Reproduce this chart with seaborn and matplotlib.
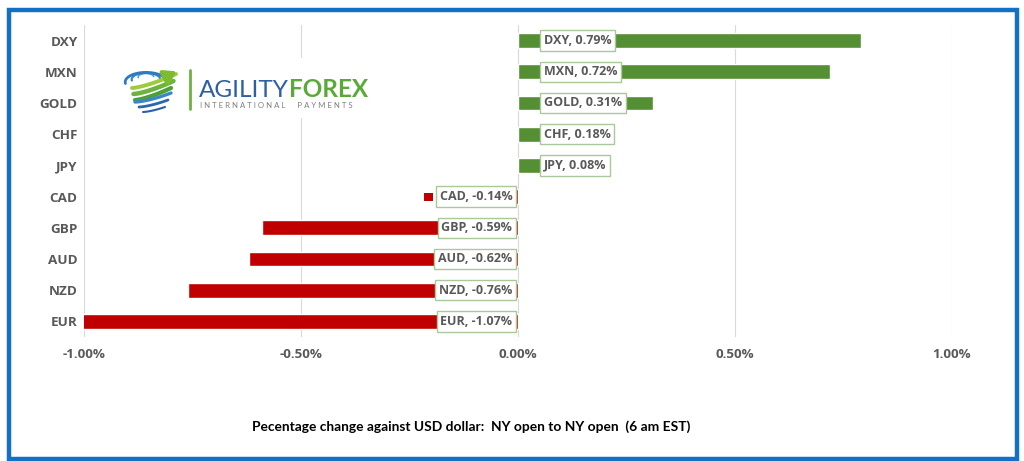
import numpy as np
import matplotlib
matplotlib.use('Agg')
import matplotlib.pyplot as plt
import seaborn as sns
from matplotlib.patches import Rectangle

# values (% change against USD)
currencies = ['DXY', 'MXN', 'GOLD', 'CHF', 'JPY', 'CAD', 'GBP', 'AUD', 'NZD', 'EUR']
changes = [0.79, 0.72, 0.31, 0.18, 0.08, -0.14, -0.59, -0.62, -0.76, -1.07]
x_ticks = [-1.0, -0.5, 0.0, 0.5, 1.0]
x_tick_labels = ['-1.00%', '-0.50%', '0.00%', '0.50%', '1.00%']
footer = 'Pecentage change against USD dollar:  NY open to NY open  (6 am EST)'
key_label = 'CAD'  # the one data label drawn with its legend key

green = '#548f33'
red = '#c00000'
grey = '#595959'
lab_font = ['Open Sans', 'DejaVu Sans']

sns.set_style('white')
plt.rcParams['font.family'] = ['Lato', 'DejaVu Sans']

W, H = 1024, 461
fig = plt.figure(figsize=(W / 100, H / 100), dpi=100)
ax = fig.add_axes([84 / W, 1 - 337 / H, 868 / W, 312 / H])

colors = [green if v >= 0 else red for v in changes]
sns.barplot(x=changes, y=currencies, hue=currencies, palette=colors, legend=False,
            orient='h', width=0.48, saturation=1, ax=ax, zorder=2)

ax.set_xlim(-1.0, 1.0)
ax.set_xticks(x_ticks)
ax.set_xticklabels(x_tick_labels, fontweight='bold', family=lab_font, fontsize=9.6)
ax.set_yticks(range(len(currencies)))
ax.set_yticklabels(currencies, fontweight='bold', family=lab_font, fontsize=9.7)
ax.set_axisbelow(True)
ax.grid(axis='x', color='#d9d9d9', lw=0.8)
ax.grid(axis='y', visible=False)
for s in ax.spines.values():
    s.set_visible(False)
ax.tick_params(axis='both', length=0, labelcolor=grey)
ax.tick_params(axis='y', pad=4.5)
ax.tick_params(axis='x', pad=8)
ax.set_xlabel('')
ax.set_ylabel('')

# data labels sitting near the zero line, white box with green outline
labels = []
for i, (c, v) in enumerate(zip(currencies, changes)):
    if v >= 0:
        off, ha = 18.5, 'left'
    else:
        off, ha = -4.1, 'right'
    a = ax.annotate(f'{c}, {v:.2f}%', xy=(0, i), xytext=(off, 0), textcoords='offset points',
                    ha=ha, va='center', fontsize=9, fontweight='bold', family=lab_font,
                    color=grey, zorder=5,
                    bbox=dict(boxstyle='square,pad=0.3', fc='white', ec='#a9c99a', lw=1))
    labels.append(a)

# footer
fig.text(471 / W, 1 - 427 / H, footer, ha='center', va='center', fontsize=9.9,
         fontweight='bold', color='black')

# blue frame
fig.add_artist(Rectangle((9 / W, 1 - 459 / H), 1008 / W, 449 / H, fill=False,
                         ec='#1271c4', lw=3.2, transform=fig.transFigure))

# logo block (white panel over the gridlines)
lg = fig.add_axes([110 / W, 1 - 118 / H, 265 / W, 60 / H])
lg.set_xlim(0, 265)
lg.set_ylim(60, 0)
lg.set_xticks([])
lg.set_yticks([])
for s in lg.spines.values():
    s.set_visible(False)
lg.set_facecolor('white')

# globe: swirl of blue and green bands
gx = 6
t = np.linspace(0, 1, 80)
# top blue swirl
for k, (bc, blw) in enumerate([('#5aa6dc', 1.3), ('#3a86c8', 1.6), ('#2f79c0', 2.0)]):
    rr = 6 + k * 5
    ang = np.linspace(np.pi * 0.95, np.pi * 1.95, 60)
    lg.plot(gx + 30 + rr * 1.3 * np.cos(ang), 19 + rr * 0.6 * np.sin(ang) + k * 2.5,
            color=bc, lw=blw, solid_capstyle='round')
# green middle bands heading up to the arrow
for k, (bc, blw) in enumerate([('#9ccc3c', 2.8), ('#6cb33f', 3.2), ('#4e9f38', 3.0)]):
    x0 = gx + 16 + k * 1.5
    y0 = 30 + k * 6
    xs = x0 + t * (44 - k * 4)
    ys = y0 - t ** 1.4 * (14 - k * 1)
    lg.plot(xs, ys, color=bc, lw=blw, solid_capstyle='round')
# bottom blue bands
for k, (bc, blw) in enumerate([('#3a86c8', 2.4), ('#2b66b0', 2.0), ('#2b5fa8', 1.5)]):
    x0 = gx + 19 + k * 4
    y0 = 44 + k * 5
    xs = x0 + t * (36 - k * 7)
    ys = y0 - t ** 1.5 * (9 - k * 2)
    lg.plot(xs, ys, color=bc, lw=blw, solid_capstyle='round')
lg.annotate('', xy=(69, 12), xytext=(54, 20),
            arrowprops=dict(arrowstyle='-|>,head_length=0.7,head_width=0.45', color='#7dbb2f',
                            lw=3))
lg.plot([80, 80], [12, 51], color='#6cb33f', lw=2)

ag = lg.text(89, 39, 'AGILITY', fontsize=17.5, fontweight='normal', color='#2d5fa6',
             ha='left', va='baseline')
fig.canvas.draw()
rend = fig.canvas.get_renderer()
ext = ag.get_window_extent(rend)
x_end = lg.transData.inverted().transform((ext.x1, ext.y0))[0]
lg.text(x_end, 39, 'FOREX', fontsize=17.5, fontweight='bold', color='#5aaa3a',
        ha='left', va='baseline')
lg.text(90, 49.5, 'I N T E R N A T I O N A L      P A Y M E N T S', fontsize=5.6,
        color='#7f7f7f', ha='left', va='baseline')

# small legend-key square left of the CAD label box
fig.canvas.draw()
a = labels[currencies.index(key_label)]
bb = a.get_bbox_patch().get_window_extent(rend)
sq = 9
ymid = (bb.y0 + bb.y1) / 2
fig.add_artist(Rectangle(((bb.x0 - 3 - sq) / fig.bbox.width, (ymid - 4) / fig.bbox.height),
                         sq / fig.bbox.width, 8 / fig.bbox.height, fc=red, ec='none',
                         transform=fig.transFigure))

fig.savefig('out.png', dpi=100, facecolor='white')
